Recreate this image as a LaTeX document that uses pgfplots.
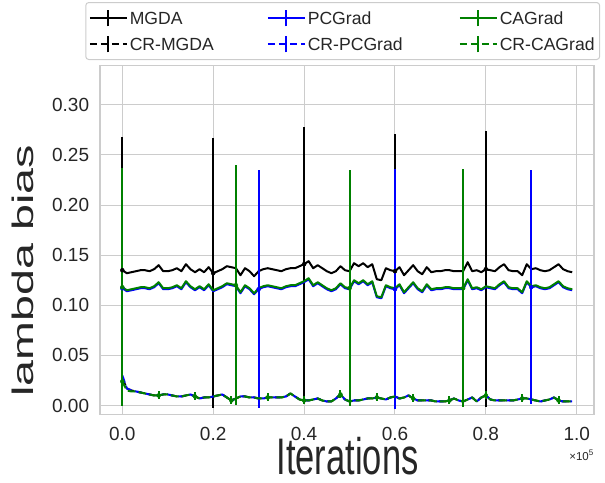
\documentclass[border=0pt]{standalone}
\usepackage{fontspec}
\setmainfont{Liberation Sans}
\usepackage{pgfplots}
\pgfplotsset{compat=1.18}
\usepackage{pgfplotstable}

\definecolor{gridc}{HTML}{CCCCCC}
\definecolor{txt}{HTML}{262626}
\definecolor{mplgreen}{HTML}{008000}

% mean curves, x in units of 1e5 iterations
\pgfplotstableread{
x mgda pcg cag crm crp crc
0.00 0.135 0.117 0.118 0.027 0.030 0.024
0.01 0.132 0.114 0.115 0.017 0.017 0.015
0.02 0.133 0.115 0.116 0.015 0.015 0.014
0.03 0.134 0.116 0.117 0.014 0.014 0.014
0.04 0.135 0.117 0.118 0.013 0.013 0.013
0.05 0.135 0.117 0.118 0.012 0.012 0.012
0.06 0.134 0.116 0.117 0.011 0.011 0.011
0.07 0.136 0.118 0.119 0.010 0.010 0.010
0.08 0.140 0.122 0.123 0.010 0.010 0.010
0.09 0.134 0.116 0.117 0.011 0.011 0.011
0.10 0.134 0.116 0.117 0.011 0.011 0.011
0.11 0.135 0.117 0.118 0.010 0.010 0.010
0.12 0.137 0.119 0.120 0.009 0.009 0.009
0.13 0.134 0.116 0.117 0.009 0.009 0.009
0.14 0.141 0.123 0.124 0.010 0.010 0.010
0.15 0.136 0.118 0.119 0.011 0.011 0.011
0.16 0.133 0.115 0.116 0.009 0.009 0.009
0.17 0.136 0.118 0.119 0.007 0.007 0.007
0.18 0.133 0.115 0.116 0.008 0.008 0.008
0.19 0.138 0.120 0.121 0.008 0.008 0.008
0.20 0.132 0.114 0.115 0.009 0.009 0.009
0.21 0.134 0.116 0.117 0.010 0.010 0.010
0.22 0.136 0.118 0.119 0.011 0.011 0.011
0.23 0.139 0.121 0.122 0.008 0.008 0.008
0.24 0.138 0.120 0.121 0.005 0.005 0.005
0.25 0.137 0.119 0.120 0.007 0.007 0.007
0.26 0.130 0.112 0.113 0.009 0.009 0.009
0.27 0.137 0.119 0.120 0.009 0.009 0.009
0.28 0.134 0.116 0.117 0.008 0.008 0.008
0.29 0.129 0.111 0.112 0.008 0.008 0.008
0.30 0.134 0.116 0.117 0.007 0.007 0.007
0.31 0.136 0.118 0.119 0.007 0.007 0.007
0.32 0.137 0.119 0.120 0.008 0.008 0.008
0.33 0.136 0.118 0.119 0.008 0.008 0.008
0.34 0.135 0.117 0.118 0.008 0.008 0.008
0.35 0.134 0.116 0.117 0.008 0.008 0.008
0.36 0.136 0.118 0.119 0.009 0.009 0.009
0.37 0.137 0.119 0.120 0.012 0.012 0.012
0.38 0.137 0.119 0.120 0.009 0.009 0.009
0.39 0.139 0.121 0.122 0.006 0.006 0.006
0.40 0.141 0.123 0.124 0.005 0.005 0.005
0.41 0.144 0.126 0.127 0.005 0.005 0.005
0.42 0.137 0.119 0.120 0.006 0.006 0.006
0.43 0.140 0.122 0.123 0.007 0.007 0.007
0.44 0.137 0.119 0.120 0.005 0.005 0.005
0.45 0.134 0.116 0.117 0.004 0.004 0.004
0.46 0.132 0.114 0.115 0.004 0.004 0.004
0.47 0.134 0.116 0.117 0.007 0.007 0.007
0.48 0.139 0.121 0.122 0.011 0.011 0.011
0.49 0.135 0.117 0.118 0.006 0.006 0.006
0.50 0.134 0.116 0.117 0.004 0.004 0.004
0.51 0.142 0.124 0.125 0.005 0.005 0.005
0.52 0.139 0.121 0.122 0.005 0.005 0.005
0.53 0.142 0.124 0.125 0.006 0.006 0.006
0.54 0.138 0.120 0.121 0.007 0.007 0.007
0.55 0.141 0.123 0.124 0.007 0.007 0.007
0.56 0.126 0.108 0.109 0.008 0.008 0.008
0.57 0.125 0.107 0.108 0.007 0.007 0.007
0.58 0.137 0.119 0.120 0.006 0.006 0.006
0.59 0.135 0.117 0.118 0.008 0.008 0.008
0.60 0.134 0.116 0.117 0.009 0.009 0.009
0.61 0.138 0.120 0.121 0.007 0.007 0.007
0.62 0.130 0.112 0.113 0.008 0.008 0.008
0.63 0.135 0.117 0.118 0.010 0.010 0.010
0.64 0.140 0.122 0.123 0.007 0.007 0.007
0.65 0.134 0.116 0.117 0.005 0.005 0.005
0.66 0.131 0.113 0.114 0.005 0.005 0.005
0.67 0.138 0.120 0.121 0.005 0.005 0.005
0.68 0.133 0.115 0.116 0.005 0.005 0.005
0.69 0.134 0.116 0.117 0.004 0.004 0.004
0.70 0.134 0.116 0.117 0.004 0.004 0.004
0.71 0.135 0.117 0.118 0.004 0.004 0.004
0.72 0.135 0.117 0.118 0.005 0.005 0.005
0.73 0.134 0.116 0.117 0.007 0.007 0.007
0.74 0.134 0.116 0.117 0.005 0.005 0.005
0.75 0.134 0.116 0.117 0.004 0.004 0.004
0.76 0.143 0.125 0.126 0.006 0.006 0.006
0.77 0.134 0.116 0.117 0.008 0.008 0.008
0.78 0.135 0.117 0.118 0.004 0.004 0.004
0.79 0.133 0.115 0.116 0.008 0.008 0.008
0.80 0.136 0.118 0.119 0.010 0.010 0.010
0.81 0.135 0.117 0.118 0.006 0.006 0.006
0.82 0.134 0.116 0.117 0.005 0.005 0.005
0.83 0.138 0.120 0.121 0.005 0.005 0.005
0.84 0.141 0.123 0.124 0.005 0.005 0.005
0.85 0.135 0.117 0.118 0.005 0.005 0.005
0.86 0.134 0.116 0.117 0.005 0.005 0.005
0.87 0.134 0.116 0.117 0.006 0.006 0.006
0.88 0.130 0.112 0.113 0.007 0.007 0.007
0.89 0.141 0.123 0.124 0.007 0.007 0.007
0.90 0.136 0.118 0.119 0.006 0.006 0.006
0.91 0.137 0.119 0.120 0.005 0.005 0.005
0.92 0.135 0.117 0.118 0.004 0.004 0.004
0.93 0.134 0.116 0.117 0.005 0.005 0.005
0.94 0.135 0.117 0.118 0.006 0.006 0.006
0.95 0.138 0.120 0.121 0.008 0.008 0.008
0.96 0.141 0.123 0.124 0.005 0.005 0.005
0.97 0.136 0.118 0.119 0.004 0.004 0.004
0.98 0.134 0.116 0.117 0.004 0.004 0.004
0.99 0.133 0.115 0.116 0.004 0.004 0.004
}\means

% error bars (only every n-th point carries one)
\pgfplotstableread{
x y e
0.00 0.135 0.133
0.20 0.132 0.135
0.40 0.141 0.137
0.60 0.134 0.137
0.80 0.136 0.138
}\errmgda
\pgfplotstableread{
x y e
0.00 0.117 0.118
0.30 0.116 0.119
0.60 0.116 0.120
0.90 0.118 0.117
}\errpcg
\pgfplotstableread{
x y e
0.00 0.118 0.119
0.25 0.120 0.120
0.50 0.117 0.118
0.75 0.117 0.119
}\errcag
\pgfplotstableread{
x y e
0.00 0.024 0.004
0.08 0.010 0.004
0.16 0.009 0.004
0.24 0.005 0.004
0.32 0.008 0.004
0.40 0.005 0.004
0.48 0.011 0.004
0.56 0.008 0.004
0.64 0.007 0.004
0.72 0.005 0.004
0.80 0.010 0.004
0.88 0.007 0.004
0.96 0.005 0.004
}\errcrc

\pgfplotsset{
  meanline/.style={line width=2pt, line join=round, mark=none},
  dashedline/.style={meanline, dash pattern=on 7.7pt off 3.3pt},
  errbars/.style={forget plot, only marks, mark=none,
    error bars/.cd, y dir=both, y explicit, error mark=none,
    error bar style={line width=2pt, solid}},
}
% fixed widths for the legend text columns
\newcommand{\colA}[1]{\makebox[107pt][l]{#1}}
\newcommand{\colB}[1]{\makebox[121pt][l]{#1}}

\begin{document}
\begin{tikzpicture}
\path[use as bounding box] (0pt,0pt) rectangle (605pt,482pt);
\begin{axis}[
    at={(100pt,67.3pt)}, anchor=south west,
    scale only axis, width=494pt, height=349.4pt,
    xmin=-0.0491, xmax=1.038,
    ymin=-0.0092, ymax=0.3395,
    xtick={0,0.2,0.4,0.6,0.8,1.0},
    ytick={0,0.05,0.10,0.15,0.20,0.25,0.30},
    scaled ticks=false,
    major tick length=0pt,
    grid=major,
    major grid style={gridc, line width=1pt},
    axis line style={gridc, line width=1.25pt},
    tick label style={text=txt, font=\fontsize{19}{22}\selectfont},
    /pgf/number format/assume math mode=true,
    xticklabel style={anchor=base, inner sep=0pt, yshift=-25.5pt,
      /pgf/number format/.cd, fixed, fixed zerofill, precision=1},
    yticklabel style={anchor=east, inner sep=0pt, xshift=-10.7pt,
      /pgf/number format/.cd, fixed, fixed zerofill, precision=2},
    legend columns=3,
    legend cell align=left,
    legend image code/.code={
      \draw[#1] (0pt,0pt) -- (37pt,0pt);
      \draw[#1, solid] (18.5pt,-8.3pt) -- (18.5pt,8.3pt);
    },
    legend style={at={(-0.0298,1.1811)}, anchor=north west,
      draw=gridc, line width=1pt, rounded corners=3pt, fill=white,
      text=txt, font=\fontsize{17.6}{20}\selectfont,
      inner xsep=3pt, inner ysep=2.5pt,
      nodes={inner xsep=2pt, inner ysep=6.5pt, text height=13pt, text depth=0pt},
      /tikz/every even column/.append style={column sep=28pt}},
]
% legend entries in row order
\addlegendimage{black, line width=2pt}
\addlegendentry{\colA{MGDA}}
\addlegendimage{blue, line width=2pt}
\addlegendentry{\colB{PCGrad}}
\addlegendimage{mplgreen, line width=2pt}
\addlegendentry{CAGrad}
\addlegendimage{black, line width=2pt, dash pattern=on 7.7pt off 3.3pt}
\addlegendentry{\colA{CR-MGDA}}
\addlegendimage{blue, line width=2pt, dash pattern=on 7.7pt off 3.3pt}
\addlegendentry{\colB{CR-PCGrad}}
\addlegendimage{mplgreen, line width=2pt, dash pattern=on 7.7pt off 3.3pt}
\addlegendentry{CR-CAGrad}

\addplot[black, meanline, forget plot] table[x=x, y=mgda] {\means};
\addplot[black, errbars] table[x=x, y=y, y error=e] {\errmgda};
\addplot[black, dashedline, forget plot] table[x=x, y=crm] {\means};
\addplot[blue, meanline, forget plot] table[x=x, y=pcg] {\means};
\addplot[blue, errbars] table[x=x, y=y, y error=e] {\errpcg};
\addplot[blue, dashedline, forget plot] table[x=x, y=crp] {\means};
\addplot[mplgreen, meanline, forget plot] table[x=x, y=cag] {\means};
\addplot[mplgreen, errbars] table[x=x, y=y, y error=e] {\errcag};
\addplot[mplgreen, dashedline, forget plot] table[x=x, y=crc] {\means};
\addplot[mplgreen, errbars] table[x=x, y=y, y error=e] {\errcrc};
\end{axis}
\node[rotate=90, inner sep=0pt, text=txt] at (22.5pt,211pt)
  {\scalebox{1.57}[1]{\fontsize{29.7}{30}\selectfont lambda bias}};
\node[anchor=base, inner sep=0pt, text=txt] at (347.5pt,8pt)
  {\scalebox{1}[1.49]{\fontsize{34.5}{35}\selectfont Iterations}};
\node[anchor=base east, inner sep=0pt, text=txt] at (594pt,22pt)
  {\fontsize{11.5}{12}\selectfont ×10\textsuperscript{5}};
\end{tikzpicture}
\end{document}
